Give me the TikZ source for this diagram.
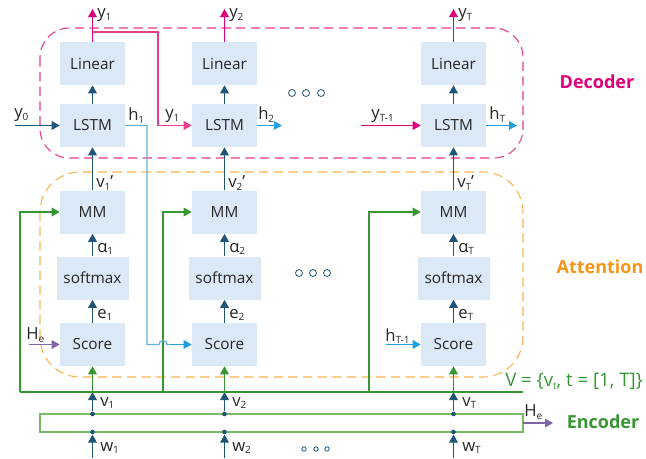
\documentclass[tikz,border=0pt]{standalone}
\usepackage{fontspec}
\setmainfont{Open Sans}
\usetikzlibrary{arrows.meta}

\definecolor{boxfill}{RGB}{219,232,246}
\definecolor{darkarr}{RGB}{31,85,120}
\definecolor{decpink}{RGB}{222,0,122}
\definecolor{decline}{RGB}{232,60,140}
\definecolor{attorange}{RGB}{245,150,25}
\definecolor{attline}{RGB}{248,180,80}
\definecolor{encgreen}{RGB}{55,150,50}
\definecolor{encline}{RGB}{120,185,100}
\definecolor{hblue}{RGB}{30,160,225}
\definecolor{hline}{RGB}{95,178,222}
\definecolor{hepurple}{RGB}{128,100,170}

\newcommand{\sub}[1]{\raisebox{-0.3ex}{\fontsize{7.5}{8}\selectfont #1}}

\begin{document}
\begin{tikzpicture}[x=0.75pt, y=-0.75pt,
	box/.style={fill=boxfill, minimum width=48.75pt, minimum height=32.25pt, inner sep=0pt, font=\fontsize{11.5}{13}\selectfont, text=black!85},
	lbl/.style={inner sep=0pt, anchor=west, font=\fontsize{12.5}{14}\selectfont, text=black!85},
	tip/.style={-{Triangle[length=6pt,width=6.5pt]}},
	flow/.style={draw=darkarr, line width=0.9pt, tip},
	pinkarr/.style={draw=decpink, line width=0.9pt, tip},
	greenarr/.style={draw=encgreen, line width=0.9pt, tip},
	bluearr/.style={draw=hblue, line width=0.9pt, tip},
	purplearr/.style={draw=hepurple, line width=0.9pt, tip},
	dot/.style={circle, fill=darkarr, inner sep=0pt, minimum size=3.5pt},
	ring/.style={draw=darkarr, line width=0.6pt}]
	\useasboundingbox (0,0) rectangle (646,458);

	% frames
	\draw[decline, line width=0.8pt, dash pattern=on 7pt off 4pt, rounded corners=22pt]
		(40,28) rectangle (523,158);
	\draw[attline, line width=0.8pt, dash pattern=on 7pt off 4pt, rounded corners=30pt]
		(40,172) rectangle (523,377);
	\draw[encline, line width=0.8pt] (40,414) rectangle (523,432);

	% column 1
	\node[box] (lin1) at (92.5,63.5) {Linear};
	\node[box] (lstm1) at (92.5,125.5) {LSTM};
	\node[box] (mm1) at (92.5,212) {MM};
	\node[box, minimum width=54pt] (soft1) at (92.5,278) {softmax};
	\node[box] (score1) at (92.5,344.5) {Score};
	\coordinate (out1) at (92.5,9);
	\coordinate (split1) at (92.5,32);
	\coordinate (bus1) at (92.5,392);
	\node[dot] (v1) at (92.5,414) {};
	\node[dot] (w1) at (92.5,432) {};
	\coordinate (in1) at (92.5,458);

	% column 2
	\node[box] (lin2) at (224.5,63.5) {Linear};
	\node[box] (lstm2) at (224.5,125.5) {LSTM};
	\node[box] (mm2) at (224.5,212) {MM};
	\node[box, minimum width=54pt] (soft2) at (224.5,278) {softmax};
	\node[box] (score2) at (224.5,344.5) {Score};
	\coordinate (out2) at (224.5,9);
	\coordinate (bus2) at (224.5,392);
	\node[dot] (v2) at (224.5,414) {};
	\node[dot] (w2) at (224.5,432) {};
	\coordinate (in2) at (224.5,458);

	% column T
	\node[box] (lin3) at (453.5,63.5) {Linear};
	\node[box] (lstm3) at (453.5,125.5) {LSTM};
	\node[box] (mm3) at (453.5,212) {MM};
	\node[box, minimum width=54pt] (soft3) at (453.5,278) {softmax};
	\node[box] (score3) at (453.5,344.5) {Score};
	\coordinate (out3) at (453.5,9);
	\coordinate (bus3) at (453.5,392);
	\node[dot] (v3) at (453.5,414) {};
	\node[dot] (w3) at (453.5,432) {};
	\coordinate (in3) at (453.5,458);

	% vertical flow
	\draw[pinkarr] (lin1) -- (out1);
	\draw[pinkarr] (lin2) -- (out2);
	\draw[pinkarr] (lin3) -- (out3);
	\draw[flow] (lstm1) -- (lin1);
	\draw[flow] (lstm2) -- (lin2);
	\draw[flow] (lstm3) -- (lin3);
	\draw[flow] (mm1) -- (lstm1);
	\draw[flow] (mm2) -- (lstm2);
	\draw[flow] (mm3) -- (lstm3);
	\draw[flow] (soft1) -- (mm1);
	\draw[flow] (soft2) -- (mm2);
	\draw[flow] (soft3) -- (mm3);
	\draw[flow] (score1) -- (soft1);
	\draw[flow] (score2) -- (soft2);
	\draw[flow] (score3) -- (soft3);
	\draw[greenarr] (bus1) -- (score1);
	\draw[greenarr] (bus2) -- (score2);
	\draw[greenarr] (bus3) -- (score3);
	\draw[flow] (v1) -- (bus1);
	\draw[flow] (v2) -- (bus2);
	\draw[flow] (v3) -- (bus3);
	\draw[flow] (in1) -- (w1);
	\draw[flow] (in2) -- (w2);
	\draw[flow] (in3) -- (w3);

	% green bus to MM
	\coordinate (busL) at (20,392);
	\coordinate (busR) at (523,392);
	\draw[encgreen, line width=0.9pt] (busL) -- (busR);
	\draw[greenarr] (busL) -- (20,212) -- (mm1);
	\draw[greenarr] (163,392) -- (163,212) -- (mm2);
	\draw[greenarr] (369,392) -- (369,212) -- (mm3);

	% decoder inputs
	\coordinate (y0) at (15,125.5);
	\draw[flow] (y0) -- (lstm1);
	\draw[decline, line width=0.9pt, tip] (split1) -- (158,32) -- (158,125.5) -- (lstm2);
	\coordinate (yT1) at (361,125.5);
	\draw[pinkarr] (yT1) -- (lstm3);
	\coordinate (h2) at (282,125.5);
	\draw[bluearr] (lstm2) -- (h2);
	\coordinate (hT) at (517,125.5);
	\draw[bluearr] (lstm3) -- (hT);

	% hidden state to score
	\draw[hline, line width=0.9pt] (lstm1.east) -- (147,125.5) -- (147,344.5) -- (159,344.5)
		arc[start angle=180, end angle=360, radius=4] -- (170,344.5);
	\draw[bluearr] (170,344.5) -- (score2);
	\coordinate (hT1) at (386,344.5);
	\draw[bluearr] (hT1) -- (score3);
	\coordinate (he1) at (29,344.5);
	\draw[purplearr] (he1) -- (score1);
	\coordinate (heout) at (553,423);
	\draw[purplearr] (523,423) -- (heout);

	% labels
	\node[lbl] (ly1) at (97,15) {y\sub{1}};
	\node[lbl] (ly2) at (229,15) {y\sub{2}};
	\node[lbl] (ly3) at (458,15) {y\sub{T}};
	\node[lbl] (ly0) at (14,115) {y\sub{0}};
	\node[lbl] (lh1) at (128,116) {h\sub{1}};
	\node[lbl] (ly1b) at (165,116) {y\sub{1}};
	\node[lbl] (lh2) at (258,115) {h\sub{2}};
	\node[lbl] (lyT1) at (371,116) {y\sub{T-1}};
	\node[lbl] (lhT) at (489,115) {h\sub{T}};
	\node[lbl] (lv1p) at (96,183) {v\sub{1}'};
	\node[lbl] (lv2p) at (228,183) {v\sub{2}'};
	\node[lbl] (lv3p) at (457,183) {v\sub{T}'};
	\node[lbl] (la1) at (97,249) {α\sub{1}};
	\node[lbl] (la2) at (229,249) {α\sub{2}};
	\node[lbl] (la3) at (458,249) {α\sub{T}};
	\node[lbl] (le1) at (97,315) {e\sub{1}};
	\node[lbl] (le2) at (229,315) {e\sub{2}};
	\node[lbl] (le3) at (458,315) {e\sub{T}};
	\node[lbl] (lhe1) at (26,335) {H\sub{e}};
	\node[lbl] (lhT1) at (385,336) {h\sub{T-1}};
	\node[lbl] (lv1) at (100,403) {v\sub{1}};
	\node[lbl] (lv2) at (232,403) {v\sub{2}};
	\node[lbl] (lv3) at (462,403) {v\sub{T}};
	\node[lbl] (lw1) at (100,448) {w\sub{1}};
	\node[lbl] (lw2) at (232,448) {w\sub{2}};
	\node[lbl] (lw3) at (462,448) {w\sub{T}};
	\node[lbl] (lheout) at (524,412) {H\sub{e}};
	\node[lbl, text=encgreen, font=\fontsize{14}{16}\selectfont] (lset) at (505,381)
		{V = \{v\sub{t}, t = [1, T]\}};

	% part names
	\node[font=\bfseries\fontsize{13.5}{16}\selectfont, text=decpink] (dec) at (597,82) {Decoder};
	\node[font=\bfseries\fontsize{13.5}{16}\selectfont, text=attorange] (att) at (600,267) {Attention};
	\node[font=\bfseries\fontsize{13.5}{16}\selectfont, text=encgreen] (enc) at (603,422) {Encoder};

	% ellipsis rings
	\foreach \x in {292,306,321} \draw[ring] (\x,93) circle[radius=3.5];
	\foreach \x in {299,313,327} \draw[ring] (\x,273) circle[radius=3.5];
	\foreach \x in {304,316,327} \draw[ring] (\x,449) circle[radius=2.2];
\end{tikzpicture}
\end{document}
